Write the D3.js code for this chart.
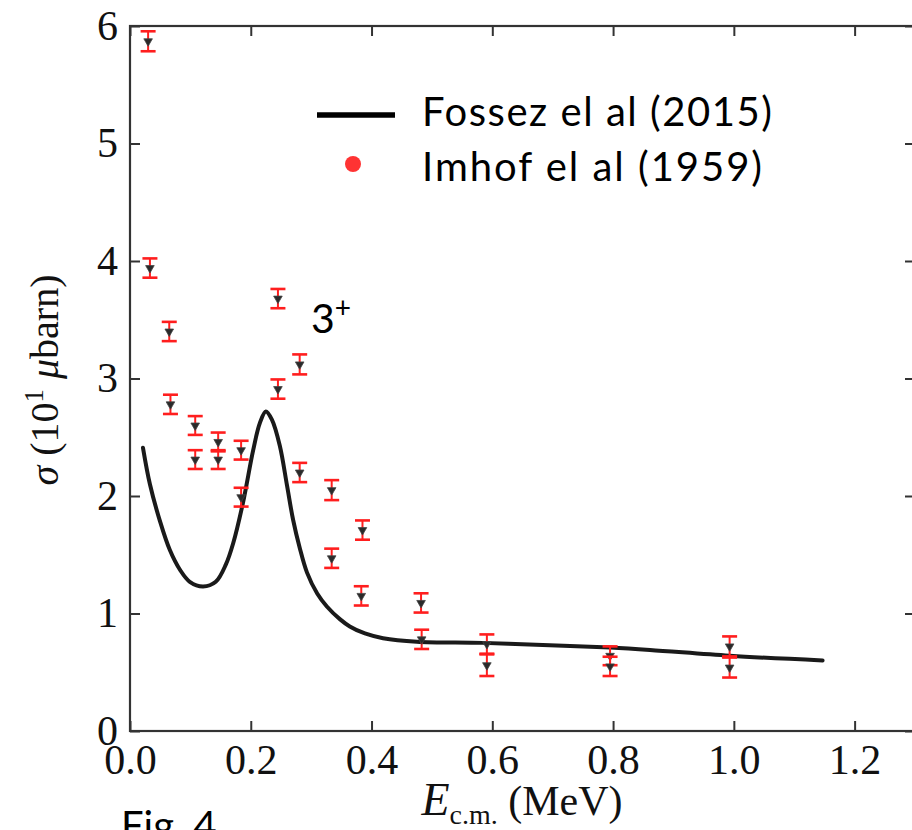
<!DOCTYPE html>
<html><head><meta charset="utf-8">
<script src="https://cdn.jsdelivr.net/npm/d3@7"></script>
<style>body{margin:0;background:#fff}svg{display:block}</style>
</head><body>
<svg id="c" width="912" height="830"></svg>
<script>
// Theory curve (Fossez et al 2015)
const curveE = [0.0215,0.033,0.050,0.066,0.083,0.099,0.121,0.142,0.159,0.171,0.187,0.204,0.215,0.225,0.235,0.248,0.260,0.270,0.281,0.293,0.310,0.326,0.348,0.364,0.389,0.419,0.475,0.584,0.695,0.795,0.861,0.993,1.147];
const curveSigma = [2.41,2.10,1.78,1.54,1.37,1.27,1.23,1.27,1.42,1.60,1.94,2.39,2.62,2.72,2.65,2.43,2.09,1.80,1.56,1.35,1.17,1.06,0.95,0.89,0.83,0.79,0.76,0.75,0.73,0.71,0.69,0.64,0.60];
// Experimental points (Imhof et al 1959)
const expE = [0.030,0.033,0.065,0.067,0.108,0.108,0.146,0.146,0.184,0.184,0.245,0.245,0.281,0.281,0.334,0.334,0.385,0.383,0.482,0.483,0.591,0.591,0.795,0.795,0.993,0.993];
const expSigma = [5.87,3.94,3.40,2.78,2.60,2.31,2.46,2.31,2.39,1.99,3.68,2.91,3.12,2.20,2.05,1.47,1.71,1.15,1.09,0.78,0.74,0.56,0.64,0.55,0.72,0.54];
const expErr = [0.085,0.082,0.082,0.082,0.08,0.08,0.08,0.08,0.08,0.08,0.082,0.082,0.085,0.082,0.085,0.082,0.082,0.082,0.082,0.082,0.082,0.092,0.08,0.082,0.085,0.085];
const xTicks = [0,0.2,0.4,0.6,0.8,1.0,1.2];
const yTicks = [0,1,2,3,4,5,6];
const legendLabels = ["Fossez el al (2015)","Imhof el al (1959)"];

const svg = d3.select("#c");
const L = 130, T = 26, B = 731, R = 915;
const x = d3.scaleLinear().domain([0,1.3]).range([L,R]);
const y = d3.scaleLinear().domain([0,6]).range([B,T]);
const serif = "'Liberation Serif','Times New Roman',serif";
const sans = "Lato,'Open Sans',sans-serif";

// axes
const axL = svg.append("g").attr("transform",`translate(${L},0)`)
  .call(d3.axisLeft(y).tickValues(yTicks).tickSize(-10).tickPadding(12).tickFormat(d3.format("d")));
const axB = svg.append("g").attr("transform",`translate(0,${B})`)
  .call(d3.axisBottom(x).tickValues(xTicks).tickSize(-10).tickPadding(10).tickFormat(d3.format(".1f")));
const axT = svg.append("g").attr("transform",`translate(0,${T})`)
  .call(d3.axisTop(x).tickValues(xTicks).tickSize(-10).tickFormat(""));
const axR = svg.append("g").attr("transform",`translate(${R},0)`)
  .call(d3.axisRight(y).tickValues(yTicks).tickSize(-10).tickFormat(""));
[axL,axB,axT,axR].forEach(a=>{
  a.select(".domain").remove();
  a.selectAll(".tick line").attr("stroke","#333").attr("stroke-width",2);
  a.selectAll("text").attr("font-family",serif).attr("font-size",42).attr("fill","#111");
});
axB.selectAll("text").attr("dy","0.78em");
svg.append("rect").attr("x",L).attr("y",T).attr("width",R-L).attr("height",B-T)
  .attr("fill","none").attr("stroke","#333").attr("stroke-width",2.2);

// theory curve
const line = d3.line().x((d,i)=>x(curveE[i])).y((d,i)=>y(curveSigma[i])).curve(d3.curveCatmullRom.alpha(0.5));
svg.append("path").datum(curveE).attr("d",line).attr("fill","none")
  .attr("stroke","#1a1a1a").attr("stroke-width",4).attr("stroke-linecap","round").attr("stroke-linejoin","round");

// experimental points
const pts = svg.append("g").selectAll("g").data(expE).join("g");
pts.append("line").attr("x1",(d,i)=>x(expE[i])).attr("x2",(d,i)=>x(expE[i]))
  .attr("y1",(d,i)=>y(expSigma[i]-expErr[i])).attr("y2",(d,i)=>y(expSigma[i]+expErr[i]))
  .attr("stroke","#ff1e1e").attr("stroke-width",2);
[-1,1].forEach(s=>{
  pts.append("line").attr("x1",(d,i)=>x(expE[i])-7.5).attr("x2",(d,i)=>x(expE[i])+7.5)
    .attr("y1",(d,i)=>y(expSigma[i]+s*expErr[i])).attr("y2",(d,i)=>y(expSigma[i]+s*expErr[i]))
    .attr("stroke","#ff1e1e").attr("stroke-width",2.6);
});
const tri = d3.symbol().type(d3.symbolTriangle).size(32);
pts.append("path").attr("d",tri)
  .attr("transform",(d,i)=>`translate(${x(expE[i])},${y(expSigma[i])}) rotate(180)`)
  .attr("fill","#2a2a2a").attr("stroke","#444").attr("stroke-width",0.8);

// legend
svg.append("line").attr("x1",317).attr("x2",395).attr("y1",115).attr("y2",115)
  .attr("stroke","#000").attr("stroke-width",5.5);
svg.append("circle").attr("cx",353).attr("cy",164).attr("r",8).attr("fill","#ff3333");
svg.append("text").attr("x",422).attr("y",126).text(legendLabels[0])
  .attr("font-family",sans).attr("font-size",40).attr("fill","#000")
  .attr("textLength",350).attr("lengthAdjust","spacing");
svg.append("text").attr("x",422).attr("y",181).text(legendLabels[1])
  .attr("font-family",sans).attr("font-size",40).attr("fill","#000")
  .attr("textLength",340).attr("lengthAdjust","spacing");

// 3+ annotation
const ann = svg.append("text").attr("x",311).attr("y",333).attr("font-family",sans).attr("font-size",41).attr("fill","#000");
ann.append("tspan").text("3");
ann.append("tspan").attr("dy",-15).attr("font-size",28).text("+");

// axis labels
const yl = svg.append("text").attr("transform","translate(58,380) rotate(-90)").attr("text-anchor","middle")
  .attr("font-family",serif).attr("font-size",40).attr("fill","#111");
yl.append("tspan").attr("font-style","italic").text("σ");
yl.append("tspan").text(" (10");
yl.append("tspan").attr("dy",-15).attr("font-size",27).text("1");
yl.append("tspan").attr("dy",15).text(" ");
yl.append("tspan").attr("font-style","italic").text("μ");
yl.append("tspan").text("barn)");

const xl = svg.append("text").attr("x",522).attr("y",815).attr("text-anchor","middle")
  .attr("font-family",serif).attr("font-size",42).attr("fill","#111");
xl.append("tspan").attr("font-style","italic").attr("font-size",46).text("E");
xl.append("tspan").attr("dy",9).attr("font-size",28).text("c.m.");
xl.append("tspan").attr("dy",-9).text(" (MeV)");

// figure caption (cut off at bottom)
svg.append("text").attr("x",121).attr("y",840).text("Fig. 4")
  .attr("font-family",sans).attr("font-size",40).attr("fill","#000");
</script>
</body></html>
